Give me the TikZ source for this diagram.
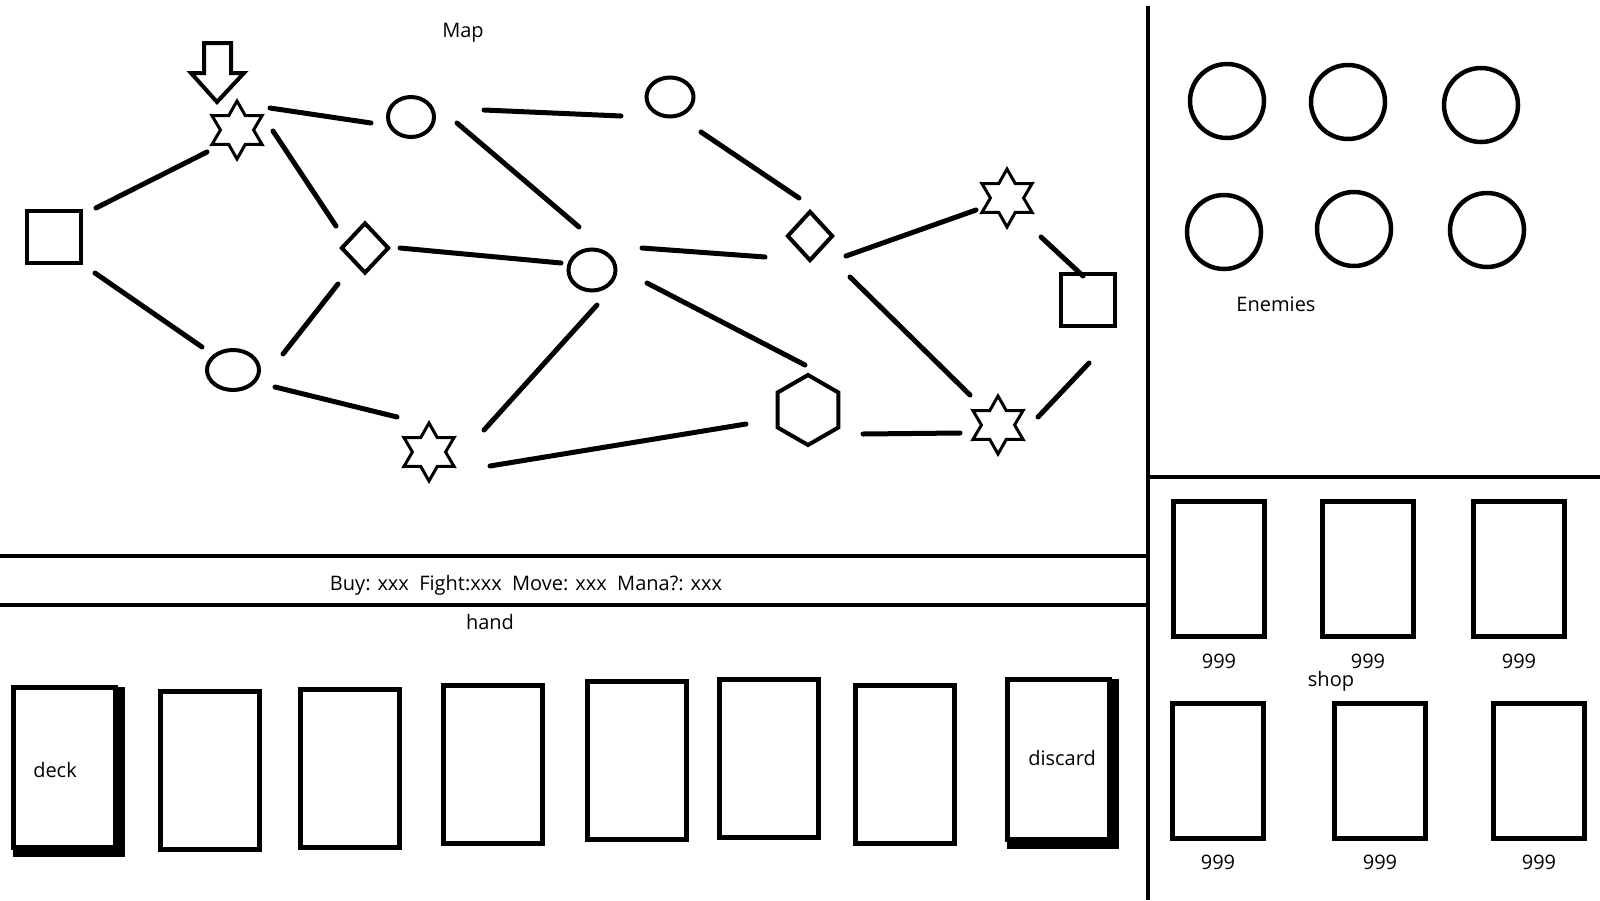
\documentclass[tikz,border=0pt]{standalone}
\usepackage{fontspec}
\setmainfont{Open Sans}
\usetikzlibrary{shapes.geometric,shadows}

\tikzset{
	room/.style={draw,line width=4pt,inner sep=0pt},
	town/.style={draw,star,star points=6,star point ratio=1.75,minimum size=58pt,line width=3pt,inner sep=0pt},
	road/.style={line width=5pt,line cap=round},
	divider/.style={line width=4.5pt},
	caption/.style={font=\fontsize{20}{24}\selectfont,inner sep=0pt},
	card/.style={draw,fill=white,line width=5pt,minimum width=99pt,minimum height=158pt,inner sep=0pt},
	pile/.style={card,minimum width=102pt,minimum height=160pt,general shadow={draw=black,fill=black,line width=10pt,shadow xshift=4pt,shadow yshift=-4pt}},
	offer/.style={draw,line width=5pt,minimum width=91pt,minimum height=135pt,inner sep=0pt},
	enemy/.style={draw,circle,line width=4.5pt,minimum size=74pt,inner sep=0pt}
}

\begin{document}
\begin{tikzpicture}[x=1pt,y=-1pt]

		\useasboundingbox (0,0) rectangle (1600,900);

		\node[caption] (maptitle) at (463,33) {Map};

		\node[room,rectangle,minimum width=54pt,minimum height=52pt] (entry) at (54,237) {};
		\node[town] (townA) at (237,130) {};
		\node[room,ellipse,minimum width=46pt,minimum height=40pt] (caveA) at (411,117) {};
		\node[room,ellipse,minimum width=47pt,minimum height=39pt] (caveB) at (670,97) {};
		\node[room,diamond,minimum width=48pt,minimum height=51pt] (shrineA) at (365,248) {};
		\node[room,ellipse,minimum width=47pt,minimum height=41pt] (caveC) at (592,270) {};
		\node[room,ellipse,minimum width=52pt,minimum height=40pt] (caveD) at (233,370) {};
		\node[town] (townB) at (429,452) {};
		\node[room,diamond,minimum width=46pt,minimum height=50pt] (shrineB) at (810,236) {};
		\node[room,regular polygon,regular polygon sides=6,shape border rotate=30,minimum size=70pt] (keep) at (808,410) {};
		\node[town] (townC) at (1007,198) {};
		\node[room,rectangle,minimum width=54pt,minimum height=52pt] (exit) at (1088,300) {};
		\node[town] (townD) at (998,425) {};

		\draw[line width=4pt] (204,43) -- (231,43) -- (231,73) -- (244,73) -- (217,102) -- (191,73) -- (204,73) -- cycle;

		\draw[road] ([shift={(42,-29)}]entry.center) -- ([shift={(-30,22)}]townA.center);
		\draw[road] ([shift={(41,36)}]entry.center) -- ([shift={(-31,-23)}]caveD.center);
		\draw[road] ([shift={(33,-22)}]townA.center) -- ([shift={(-40,6)}]caveA.center);
		\draw[road] ([shift={(36,1)}]townA.center) -- ([shift={(-29,-22)}]shrineA.center);
		\draw[road] ([shift={(73,-7)}]caveA.center) -- ([shift={(-49,19)}]caveB.center);
		\draw[road] ([shift={(46,6)}]caveA.center) -- ([shift={(-13,-43)}]caveC.center);
		\draw[road] ([shift={(35,0)}]shrineA.center) -- ([shift={(-31,-7)}]caveC.center);
		\draw[road] ([shift={(-27,36)}]shrineA.center) -- ([shift={(50,-16)}]caveD.center);
		\draw[road] ([shift={(42,17)}]caveD.center) -- ([shift={(-32,-35)}]townB.center);
		\draw[road] ([shift={(55,-22)}]townB.center) -- ([shift={(5,35)}]caveC.center);
		\draw[road] ([shift={(61,14)}]townB.center) -- ([shift={(-62,14)}]keep.center);
		\draw[road] ([shift={(31,35)}]caveB.center) -- ([shift={(-11,-38)}]shrineB.center);
		\draw[road] ([shift={(50,-22)}]caveC.center) -- ([shift={(-45,21)}]shrineB.center);
		\draw[road] ([shift={(55,13)}]caveC.center) -- ([shift={(-3,-45)}]keep.center);
		\draw[road] ([shift={(36,20)}]shrineB.center) -- ([shift={(-31,12)}]townC.center);
		\draw[road] ([shift={(40,41)}]shrineB.center) -- ([shift={(-28,-30)}]townD.center);
		\draw[road] ([shift={(34,39)}]townC.center) -- ([shift={(-5,-24)}]exit.center);
		\draw[road] ([shift={(1,63)}]exit.center) -- ([shift={(40,-8)}]townD.center);
		\draw[road] ([shift={(55,24)}]keep.center) -- ([shift={(-38,8)}]townD.center);

		\draw[divider] (1148,6) -- (1148,900);
		\draw[divider] (1148,477) -- (1600,477);
		\draw[divider] (0,556) -- (1148,556);
		\draw[divider] (0,605) -- (1148,605);

		\node[enemy] (enemy1) at (1227,101) {};
		\node[enemy] (enemy2) at (1348,102) {};
		\node[enemy] (enemy3) at (1481,105) {};
		\node[enemy] (enemy4) at (1224,232) {};
		\node[enemy] (enemy5) at (1354,229) {};
		\node[enemy] (enemy6) at (1487,230) {};
		\node[caption] (enemytitle) at (1276,304) {Enemies};

		\node[offer] (offer1) at (1219,569) {};
		\node[offer] (offer2) at (1368,569) {};
		\node[offer] (offer3) at (1519,569) {};
		\node[offer] (offer4) at (1218,771) {};
		\node[offer] (offer5) at (1380,771) {};
		\node[offer] (offer6) at (1539,771) {};
		\node[caption] (price1) at (1219,661) {999};
		\node[caption] (price2) at (1368,661) {999};
		\node[caption] (price3) at (1519,661) {999};
		\node[caption] (price4) at (1218,862) {999};
		\node[caption] (price5) at (1380,862) {999};
		\node[caption] (price6) at (1539,862) {999};
		\node[caption] (shoptitle) at (1331,681) {shop};

		\node[caption] (status) at (526,585) {Buy: xxx\ \ Fight:xxx\ \ Move: xxx\ \ Mana?: xxx};
		\node[caption] (handtitle) at (490,622) {hand};

		\node[pile] (deck) at (64.5,767.5) {};
		\node[card] (hand1) at (210,770) {};
		\node[card] (hand2) at (350,768) {};
		\node[card] (hand3) at (493,764) {};
		\node[card] (hand4) at (637,760) {};
		\node[card] (hand5) at (769,758) {};
		\node[card] (hand6) at (905,764) {};
		\node[pile] (discard) at (1058.5,759.5) {};
		\node[caption] (decktitle) at (55,770) {deck};
		\node[caption] (discardtitle) at (1062,758) {discard};

	\end{tikzpicture}
\end{document}
